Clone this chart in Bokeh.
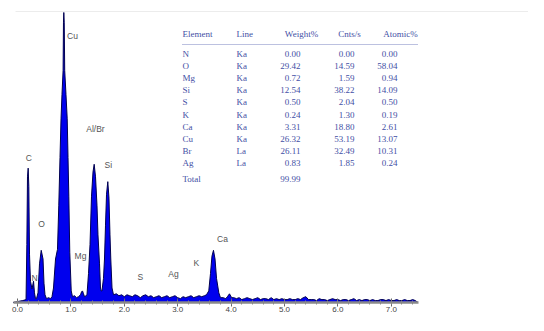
from bokeh.plotting import figure
from bokeh.models import Range1d, SingleIntervalTicker, NumeralTickFormatter
from bokeh.core.properties import value
from bokeh.embed import file_html
from bokeh.resources import INLINE

# ---------------- data ----------------
energy = [-0.08, 0.00, 0.10, 0.160, 0.175, 0.187, 0.200, 0.212, 0.225, 0.243, 0.272, 0.300, 0.318,
          0.337, 0.356, 0.384, 0.412, 0.444, 0.478, 0.496, 0.515, 0.543, 0.581, 0.618, 0.646, 0.674,
          0.712, 0.749, 0.773, 0.796, 0.815, 0.833, 0.854, 0.861, 0.867, 0.875, 0.884, 0.908, 0.931,
          0.946, 0.961, 0.979, 1.006, 1.030, 1.067, 1.105, 1.142, 1.180, 1.199, 1.217, 1.236, 1.255,
          1.283, 1.301, 1.330, 1.358, 1.386, 1.414, 1.436, 1.461, 1.489, 1.507, 1.536, 1.554, 1.567,
          1.582, 1.610, 1.629, 1.648, 1.667, 1.691, 1.713, 1.732, 1.747, 1.770, 1.798,
          1.85, 1.90, 1.95, 2.00, 2.05, 2.10, 2.15, 2.20, 2.25, 2.30, 2.35, 2.40, 2.45, 2.50, 2.55,
          2.60, 2.65, 2.70, 2.75, 2.80, 2.85, 2.90, 2.95, 3.00, 3.05, 3.10, 3.15, 3.20, 3.25, 3.30,
          3.35, 3.40, 3.45, 3.50,
          3.539, 3.582, 3.614, 3.642, 3.670, 3.699, 3.727, 3.770, 3.801, 3.85, 3.90, 3.93, 3.97, 4.01,
          4.05, 4.10, 4.15, 4.20, 4.25, 4.30, 4.35, 4.40, 4.45, 4.50,
          4.55, 4.60, 4.65, 4.70, 4.75, 4.80, 4.85, 4.90, 4.95, 5.00,
          5.05, 5.10, 5.15, 5.20, 5.25, 5.30, 5.35, 5.40, 5.45, 5.50,
          5.55, 5.60, 5.65, 5.70, 5.75, 5.80, 5.85, 5.90, 5.95, 6.00,
          6.05, 6.10, 6.15, 6.20, 6.25, 6.30, 6.35, 6.40, 6.45, 6.50,
          6.55, 6.60, 6.65, 6.70, 6.75, 6.80, 6.85, 6.90, 6.95, 7.00,
          7.05, 7.10, 7.15, 7.20, 7.25, 7.30, 7.35, 7.40, 7.45, 7.50]
counts = [0, 1, 2, 3, 60, 130, 139, 120, 50, 22, 14, 22, 10,
          4, 4, 10, 40, 54, 45, 20, 8, 4, 5, 4, 6, 15,
          45, 55, 100, 150, 190, 215, 240, 290, 300, 290, 240, 215, 190,
          150, 110, 52, 12, 6, 7, 5, 6, 8, 11, 12, 9, 6,
          7, 8, 30, 60, 110, 135, 143, 130, 100, 70, 40, 15, 12,
          12, 25, 45, 80, 112, 125, 108, 70, 45, 15, 8,
          9, 7, 8, 6, 8, 7, 6, 8, 7, 5, 7, 8, 6, 7, 5,
          6, 7, 5, 6, 7, 5, 6, 7, 5, 4, 6, 5, 6, 7, 5,
          6, 7, 6, 7,
          8, 12, 30, 48, 54, 45, 25, 10, 5, 5, 4, 6, 9, 5,
          5, 4, 5, 3, 4, 5, 4, 3, 4, 5,
          3, 4, 4, 3, 5, 3, 4, 3, 4, 3,
          3, 4, 3, 3, 4, 3, 5, 6, 3, 3,
          3, 2, 4, 3, 3, 2, 3, 4, 3, 3,
          2, 3, 3, 2, 3, 4, 2, 3, 2, 3,
          3, 2, 3, 2, 2, 3, 3, 2, 3, 2,
          2, 3, 2, 2, 3, 2, 2, 3, 2, 0]

peak_names = ["C", "N", "O", "Cu", "Mg", "Al/Br", "Si", "S", "Ag", "K", "Ca"]
peak_label_kev = [0.21, 0.32, 0.45, 1.03, 1.18, 1.46, 1.70, 2.30, 2.92, 3.35, 3.84]
peak_label_cts = [150, 25, 81, 276, 48, 180, 142, 26, 30, 41, 66]

headers = ["Element", "Line", "Weight%", "Cnts/s", "Atomic%"]
elements = ["N", "O", "Mg", "Si", "S", "K", "Ca", "Cu", "Br", "Ag"]
lines = ["Ka", "Ka", "Ka", "Ka", "Ka", "Ka", "Ka", "Ka", "La", "La"]
weight = ["0.00", "29.42", "0.72", "12.54", "0.50", "0.24", "3.31", "26.32", "26.11", "0.83"]
cnts = ["0.00", "14.59", "1.59", "38.22", "2.04", "1.30", "18.80", "53.19", "32.49", "1.85"]
atomic = ["0.00", "58.04", "0.94", "14.09", "0.50", "0.19", "2.61", "13.07", "10.31", "0.24"]
total_label = "Total"
total_weight = "99.99"

# ---------------- figure ----------------
W, H = 528, 315
PX_PER_KEV = 53.4
X0_PX = 17                 # pixel position of 0 keV
BASE_PX = 302              # pixel row of the zero-count baseline
PX_PER_COUNT = 290 / 300.0

x0 = -X0_PX / PX_PER_KEV
y0 = -(H - BASE_PX) / PX_PER_COUNT
p = figure(width=W, height=H, output_backend="svg", toolbar_location=None,
           x_range=Range1d(x0, x0 + W / PX_PER_KEV),
           y_range=Range1d(y0, y0 + H / PX_PER_COUNT),
           y_axis_location=None, min_border=0, outline_line_color=None,
           background_fill_color="white", border_fill_color="white")
p.xgrid.visible = False
p.ygrid.visible = False

# pixel-space ranges for the table layout
p.extra_x_ranges = {"px": Range1d(0, W)}
p.extra_y_ranges = {"px": Range1d(H, 0)}

# faint top rule
p.segment(x0=[15], y0=[11], x1=[W], y1=[11], x_range_name="px", y_range_name="px",
          line_color="#ececec", line_width=1)

# spectrum
p.varea(x=energy, y1=[0] * len(energy), y2=counts, fill_color="#0000ee")
p.line(energy, counts, line_color="#000050", line_width=1)

# x axis drawn at counts = 0
ax = p.xaxis[0]
ax.fixed_location = 0
ax.ticker = SingleIntervalTicker(interval=1, num_minor_ticks=5)
ax.formatter = NumeralTickFormatter(format="0.0")
ax.bounds = (-0.08, 7.5)
ax.axis_line_color = "#8a8a8a"
ax.axis_line_width = 2.5
ax.major_tick_line_color = "#666666"
ax.minor_tick_line_color = "#888888"
ax.major_tick_in = 4
ax.major_tick_out = 4
ax.minor_tick_in = 2
ax.minor_tick_out = 2
ax.major_label_standoff = 0
ax.major_label_text_font = "Liberation Sans"
ax.major_label_text_font_size = "8px"
ax.major_label_text_color = "#444444"

# peak labels
p.text(x=peak_label_kev, y=peak_label_cts, text=peak_names,
       text_font=value("Liberation Sans"), text_font_size="8.5px",
       text_color="#555555", text_align="center", text_baseline="middle")

# ---------------- table ----------------
TC = "#3f4fa5"
TF = value("Liberation Serif")
TS = "9px"
row_y = [53 + 12.2 * i for i in range(len(elements))]
head_y = 33
total_y = 178.5

p.text(x=[182, 236], y=[head_y, head_y], text=headers[:2], x_range_name="px", y_range_name="px",
       text_font=TF, text_font_size=TS, text_color=TC, text_align="left", text_baseline="middle")
p.text(x=[301, 349, 400], y=[head_y] * 3, text=headers[2:], x_range_name="px", y_range_name="px",
       text_font=TF, text_font_size=TS, text_color=TC, text_align="center", text_baseline="middle")
p.segment(x0=[182], y0=[44], x1=[418], y1=[44], x_range_name="px", y_range_name="px",
          line_color=TC, line_width=1, line_dash="1 1", line_alpha=0.7)

p.text(x=[182] * len(elements), y=row_y, text=elements, x_range_name="px", y_range_name="px",
       text_font=TF, text_font_size=TS, text_color=TC, text_align="left", text_baseline="middle")
p.text(x=[236] * len(lines), y=row_y, text=lines, x_range_name="px", y_range_name="px",
       text_font=TF, text_font_size=TS, text_color=TC, text_align="left", text_baseline="middle")
for col_x, col in ((300, weight), (354, cnts), (397, atomic)):
    p.text(x=[col_x] * len(col), y=row_y, text=col, x_range_name="px", y_range_name="px",
           text_font=TF, text_font_size=TS, text_color=TC, text_align="right", text_baseline="middle")
p.text(x=[182], y=[total_y], text=[total_label], x_range_name="px", y_range_name="px",
       text_font=TF, text_font_size=TS, text_color=TC, text_align="left", text_baseline="middle")
p.text(x=[300], y=[total_y], text=[total_weight], x_range_name="px", y_range_name="px",
       text_font=TF, text_font_size=TS, text_color=TC, text_align="right", text_baseline="middle")

open("out.html", "w").write(file_html(p, INLINE))
